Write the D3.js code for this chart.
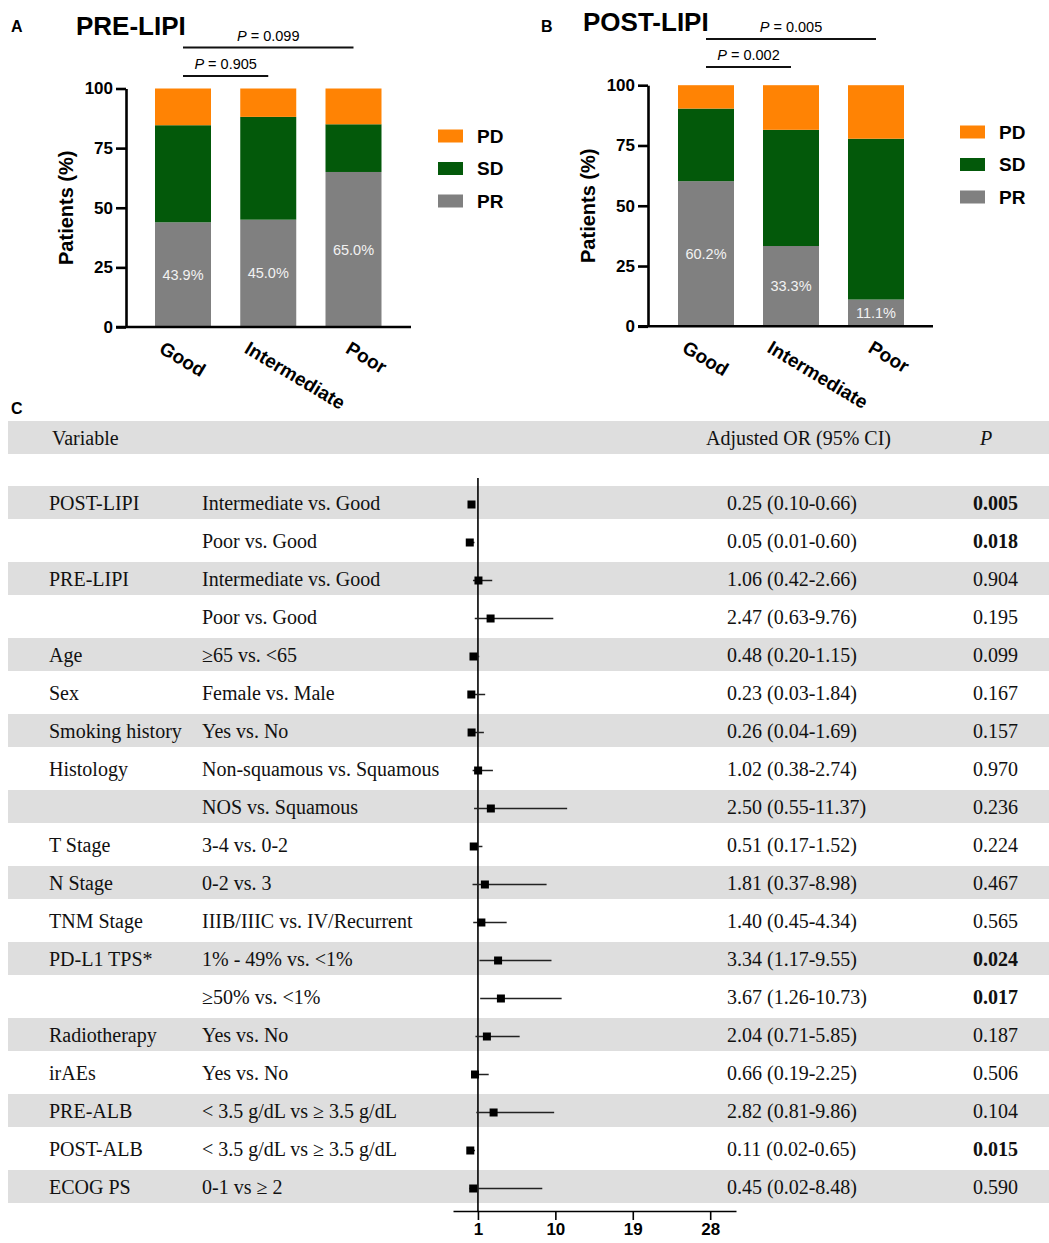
<!DOCTYPE html>
<html>
<head>
<meta charset="utf-8">
<script src="https://cdn.jsdelivr.net/npm/d3@7"></script>
<style>
  html, body { margin: 0; padding: 0; background: #ffffff; }
  svg { display: block; }
</style>
</head>
<body>
<svg id="chart" width="1049" height="1243"></svg>
<script>
// ---------- Panel A / B: objective response by LIPI group ----------
const groups = ["Good", "Intermediate", "Poor"];
const responses = ["PD", "SD", "PR"];              // legend order, top to bottom
const stackOrder = ["PR", "SD", "PD"];             // stacking order, bottom to top

const preLipiPR = [43.9, 45.0, 65.0];
const preLipiSD = [40.7, 43.1, 20.0];
const preLipiPD = [15.4, 11.9, 15.0];

const postLipiPR = [60.2, 33.3, 11.1];
const postLipiSD = [30.1, 48.2, 66.7];
const postLipiPD = [9.7, 18.5, 22.2];

const percentTicks = [0, 25, 50, 75, 100];

// pairwise comparisons: [group A, group B, P value]
const preLipiTests = [["Good", "Intermediate", "0.905"], ["Good", "Poor", "0.099"]];
const postLipiTests = [["Good", "Intermediate", "0.002"], ["Good", "Poor", "0.005"]];

// ---------- Panel C: multivariable logistic regression ----------
const variables = ["POST-LIPI", "", "PRE-LIPI", "", "Age", "Sex", "Smoking history", "Histology", "",
  "T Stage", "N Stage", "TNM Stage", "PD-L1 TPS*", "", "Radiotherapy", "irAEs", "PRE-ALB", "POST-ALB", "ECOG PS"];
const comparisons = ["Intermediate vs. Good", "Poor vs. Good", "Intermediate vs. Good", "Poor vs. Good",
  "≥65 vs. <65", "Female vs. Male", "Yes vs. No", "Non-squamous vs. Squamous", "NOS vs. Squamous",
  "3-4 vs. 0-2", "0-2 vs. 3", "IIIB/IIIC vs. IV/Recurrent", "1% - 49% vs. <1%", "≥50% vs. <1%",
  "Yes vs. No", "Yes vs. No", "< 3.5 g/dL vs ≥ 3.5 g/dL", "< 3.5 g/dL vs ≥ 3.5 g/dL", "0-1 vs ≥ 2"];
const oddsRatios = [0.25, 0.05, 1.06, 2.47, 0.48, 0.23, 0.26, 1.02, 2.50, 0.51, 1.81, 1.40, 3.34, 3.67, 2.04, 0.66, 2.82, 0.11, 0.45];
const ciLower =    [0.10, 0.01, 0.42, 0.63, 0.20, 0.03, 0.04, 0.38, 0.55, 0.17, 0.37, 0.45, 1.17, 1.26, 0.71, 0.19, 0.81, 0.02, 0.02];
const ciUpper =    [0.66, 0.60, 2.66, 9.76, 1.15, 1.84, 1.69, 2.74, 11.37, 1.52, 8.98, 4.34, 9.55, 10.73, 5.85, 2.25, 9.86, 0.65, 8.48];
const pValues = ["0.005", "0.018", "0.904", "0.195", "0.099", "0.167", "0.157", "0.970", "0.236", "0.224",
  "0.467", "0.565", "0.024", "0.017", "0.187", "0.506", "0.104", "0.015", "0.590"];
const forestTicks = [1, 10, 19, 28];

const colors = { PR: "#808080", SD: "#03590a", PD: "#ff8304" };
const SANS = "'Liberation Sans', Arial, Helvetica, sans-serif";
const SERIF = "'Liberation Serif', 'Times New Roman', Times, serif";
const TABLE_FS = 20;

const svg = d3.select("#chart");
svg.append("rect").attr("width", 1049).attr("height", 1243).attr("fill", "#fff");

function panelLetter(x, y, t) {
  svg.append("text").attr("x", x).attr("y", y).text(t)
    .attr("font-family", SANS).attr("font-weight", "bold").attr("font-size", 16).attr("fill", "#000");
}

function drawBars(cfg) {
  const g = svg.append("g");
  const y = d3.scaleLinear().domain([0, 100]).range([cfg.y0, cfg.y100]);
  const x = d3.scalePoint().domain(groups).range([cfg.xFirst, cfg.xLast]);
  const barW = 56;

  const rows = groups.map((grp, i) => ({ group: grp, PR: cfg.PR[i], SD: cfg.SD[i], PD: cfg.PD[i] }));
  const stacked = d3.stack().keys(stackOrder)(rows);

  g.selectAll("g.layer").data(stacked).join("g")
    .attr("fill", d => colors[d.key])
    .selectAll("rect").data(d => d).join("rect")
    .attr("x", d => x(d.data.group) - barW / 2)
    .attr("width", barW)
    .attr("y", d => y(d[1]))
    .attr("height", d => y(d[0]) - y(d[1]));

  // PR percentage labels
  g.selectAll("text.pct").data(rows).join("text")
    .attr("x", d => x(d.group))
    .attr("y", d => y(d.PR / 2))
    .attr("dy", "0.35em")
    .attr("text-anchor", "middle")
    .attr("font-family", SANS).attr("font-size", 14.5).attr("fill", "#f2f2f2")
    .text(d => d.PR.toFixed(1) + "%");

  // y axis
  const yAxis = g.append("g").attr("transform", `translate(${cfg.axisX},0)`)
    .call(d3.axisLeft(y).tickValues(percentTicks).tickSize(10).tickSizeOuter(0).tickPadding(3));
  yAxis.select(".domain").attr("stroke", "#000").attr("stroke-width", 2.6);
  yAxis.selectAll(".tick line").attr("stroke", "#000").attr("stroke-width", 2.6);
  yAxis.selectAll(".tick text").attr("font-family", SANS).attr("font-weight", "bold")
    .attr("font-size", 17).attr("fill", "#000");

  // x axis baseline
  g.append("line").attr("x1", cfg.axisX - 10).attr("x2", cfg.axisX + 285)
    .attr("y1", y(0)).attr("y2", y(0)).attr("stroke", "#000").attr("stroke-width", 2.6);

  // category labels (short labels sit a little further right, as drawn by the plotting tool)
  g.selectAll("text.cat").data(groups).join("text")
    .attr("transform", (d, i) => `translate(${x(d) - (i === groups.length - 1 ? 9 : 25)},${y(0) + 25}) rotate(31)`)
    .attr("font-family", SANS).attr("font-weight", "bold").attr("font-size", 19).attr("fill", "#000")
    .text(d => d);

  // y-axis title
  g.append("text")
    .attr("transform", `translate(${cfg.axisX - 53},${(y(0) + y(100)) / 2}) rotate(-90)`)
    .attr("text-anchor", "middle")
    .attr("font-family", SANS).attr("font-weight", "bold").attr("font-size", 20).attr("fill", "#000")
    .text("Patients (%)");

  // chart title
  g.append("text").attr("x", cfg.titleX).attr("y", cfg.titleY)
    .attr("font-family", SANS).attr("font-weight", "bold").attr("font-size", 26).attr("fill", "#000")
    .text(cfg.title);

  // significance brackets
  cfg.tests.forEach((t, i) => {
    const ly = cfg.bracketY[i];
    const x1 = x(t[0]), x2 = x(t[1]);
    g.append("line").attr("x1", x1).attr("x2", x2).attr("y1", ly).attr("y2", ly)
      .attr("stroke", "#111").attr("stroke-width", 1.8);
    const tx = g.append("text").attr("x", (x1 + x2) / 2).attr("y", ly - 7)
      .attr("text-anchor", "middle").attr("font-family", SANS).attr("font-size", 14.5).attr("fill", "#000");
    tx.append("tspan").attr("font-style", "italic").text("P");
    tx.append("tspan").text(" = " + t[2]);
  });

  // legend
  const lg = g.append("g");
  responses.forEach((r, i) => {
    const cy = cfg.legendY + i * 32.5;
    lg.append("rect").attr("x", cfg.legendX).attr("y", cy - 6.5).attr("width", 25).attr("height", 13)
      .attr("fill", colors[r]);
    lg.append("text").attr("x", cfg.legendX + 39).attr("y", cy).attr("dy", "0.36em")
      .attr("font-family", SANS).attr("font-weight", "bold").attr("font-size", 19).attr("fill", "#000")
      .text(r);
  });
}

panelLetter(11, 32, "A");
drawBars({
  title: "PRE-LIPI", titleX: 76, titleY: 35,
  PR: preLipiPR, SD: preLipiSD, PD: preLipiPD,
  y0: 327, y100: 88.5, xFirst: 183, xLast: 353.5, axisX: 126,
  tests: preLipiTests, bracketY: [76, 47.5],
  legendX: 438, legendY: 136
});

panelLetter(541, 32, "B");
drawBars({
  title: "POST-LIPI", titleX: 583, titleY: 31,
  PR: postLipiPR, SD: postLipiSD, PD: postLipiPD,
  y0: 326.3, y100: 85.2, xFirst: 706, xLast: 876, axisX: 648,
  tests: postLipiTests, bracketY: [67, 39],
  legendX: 960, legendY: 132
});

// ---------- Panel C: forest plot table ----------
panelLetter(11, 414, "C");

const fg = svg.append("g");
const n = variables.length;
const rowY = d3.scaleBand().domain(d3.range(n))
  .range([483.5, 483.5 + n * 38]).paddingInner(5 / 38).paddingOuter(2.5 / 38);
const fx = d3.scaleLinear().domain([-1.9, 31]).range([453, 736]);

// header band
fg.append("rect").attr("x", 8).attr("y", 421).attr("width", 1041).attr("height", 33).attr("fill", "#dedede");
const headerY = 438;
fg.append("text").attr("x", 52).attr("y", headerY).attr("dy", "0.35em")
  .attr("font-family", SERIF).attr("font-size", TABLE_FS).attr("fill", "#111").text("Variable");
fg.append("text").attr("x", 706).attr("y", headerY).attr("dy", "0.35em")
  .attr("font-family", SERIF).attr("font-size", TABLE_FS).attr("fill", "#111").text("Adjusted OR (95% CI)");
fg.append("text").attr("x", 980).attr("y", headerY).attr("dy", "0.35em")
  .attr("font-family", SERIF).attr("font-style", "italic").attr("font-size", TABLE_FS).attr("fill", "#111").text("P");

// alternating row bands
fg.selectAll("rect.band").data(d3.range(n).filter(i => i % 2 === 0)).join("rect")
  .attr("x", 8).attr("width", 1041)
  .attr("y", i => rowY(i)).attr("height", rowY.bandwidth())
  .attr("fill", "#dedede");

const cy = i => rowY(i) + rowY.bandwidth() / 2;

const tableRows = d3.range(n).map(i => ({
  i, variable: variables[i], comparison: comparisons[i],
  or: oddsRatios[i], lo: ciLower[i], hi: ciUpper[i], p: pValues[i]
}));

fg.selectAll("text.var").data(tableRows).join("text")
  .attr("x", 49).attr("y", d => cy(d.i)).attr("dy", "0.35em")
  .attr("font-family", SERIF).attr("font-size", TABLE_FS).attr("fill", "#111")
  .text(d => d.variable);

fg.selectAll("text.cmp").data(tableRows).join("text")
  .attr("x", 202).attr("y", d => cy(d.i)).attr("dy", "0.35em")
  .attr("font-family", SERIF).attr("font-size", TABLE_FS).attr("fill", "#111")
  .text(d => d.comparison);

fg.selectAll("text.or").data(tableRows).join("text")
  .attr("x", 727).attr("y", d => cy(d.i)).attr("dy", "0.35em")
  .attr("font-family", SERIF).attr("font-size", TABLE_FS).attr("fill", "#111")
  .text(d => `${d.or.toFixed(2)} (${d.lo.toFixed(2)}-${d.hi.toFixed(2)})`);

fg.selectAll("text.pv").data(tableRows).join("text")
  .attr("x", 973).attr("y", d => cy(d.i)).attr("dy", "0.35em")
  .attr("font-family", SERIF).attr("font-size", TABLE_FS).attr("fill", "#111")
  .attr("font-weight", d => (+d.p < 0.05 ? "bold" : "normal"))
  .text(d => d.p);

// reference line at OR = 1
fg.append("line").attr("x1", fx(1)).attr("x2", fx(1)).attr("y1", 478).attr("y2", 1212)
  .attr("stroke", "#000").attr("stroke-width", 1.6);

// confidence intervals and point estimates
fg.selectAll("line.ci").data(tableRows).join("line")
  .attr("x1", d => fx(d.lo)).attr("x2", d => fx(d.hi))
  .attr("y1", d => cy(d.i) + 2).attr("y2", d => cy(d.i) + 2)
  .attr("stroke", "#222").attr("stroke-width", 1.5);

fg.selectAll("rect.pt").data(tableRows).join("rect")
  .attr("x", d => fx(d.or) - 4).attr("y", d => cy(d.i) + 2 - 4)
  .attr("width", 8).attr("height", 8).attr("fill", "#000");

// OR axis
const ax = fg.append("g").attr("transform", "translate(0,1211)")
  .call(d3.axisBottom(fx).tickValues(forestTicks).tickSize(9).tickSizeOuter(0).tickPadding(3));
ax.select(".domain").attr("stroke", "#000").attr("stroke-width", 1.6);
ax.selectAll(".tick line").attr("stroke", "#000").attr("stroke-width", 1.6);
ax.selectAll(".tick text").attr("font-family", SANS).attr("font-weight", "bold")
  .attr("font-size", 17).attr("fill", "#000");
</script>
</body>
</html>
